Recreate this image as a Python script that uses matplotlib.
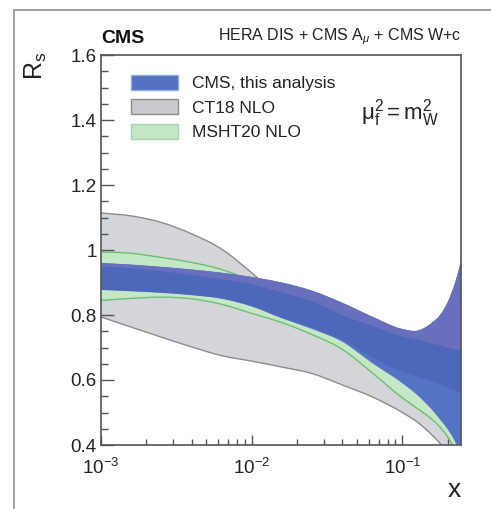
import numpy as np
import matplotlib
matplotlib.use("Agg")
import matplotlib.pyplot as plt
from matplotlib.patches import Patch, PathPatch
from matplotlib.path import Path
from matplotlib.lines import Line2D
from matplotlib.ticker import FixedLocator, LogLocator, NullFormatter

plt.rcParams['font.family'] = ['Liberation Sans', 'DejaVu Sans']
plt.rcParams['mathtext.fontset'] = 'custom'
plt.rcParams['mathtext.rm'] = 'Liberation Sans'
plt.rcParams['mathtext.it'] = 'Liberation Sans:italic'
plt.rcParams['mathtext.bf'] = 'Liberation Sans:bold'

# ---- data ----
x = [0.001, 0.00158, 0.00251, 0.00398, 0.00631, 0.01, 0.0158, 0.0251, 0.0398,
     0.0631, 0.1, 0.126, 0.158, 0.178, 0.2, 0.224, 0.245]

ct18_hi = [1.114, 1.105, 1.085, 1.05, 1.003, 0.93, 0.85, 0.79, 0.74,
           0.68, 0.62, 0.59, 0.56, 0.54, 0.52, 0.50, 0.48]
ct18_lo = [0.794, 0.763, 0.732, 0.702, 0.675, 0.658, 0.64, 0.62, 0.585,
           0.548, 0.50, 0.47, 0.43, 0.405, 0.38, 0.355, 0.335]

msht_hi = [0.994, 0.99, 0.977, 0.962, 0.94, 0.905, 0.86, 0.82, 0.78,
           0.72, 0.66, 0.63, 0.60, 0.58, 0.56, 0.55, 0.54]
msht_lo = [0.845, 0.851, 0.855, 0.85, 0.833, 0.805, 0.777, 0.74, 0.695,
           0.622, 0.545, 0.512, 0.478, 0.455, 0.425, 0.385, 0.35]

cms_hi = [0.960, 0.955, 0.948, 0.940, 0.930, 0.917, 0.90, 0.875, 0.838,
          0.795, 0.757, 0.752, 0.777, 0.80, 0.84, 0.90, 0.965]
cms_lo = [0.877, 0.873, 0.868, 0.861, 0.850, 0.826, 0.79, 0.757, 0.718,
          0.652, 0.59, 0.553, 0.507, 0.478, 0.448, 0.41, 0.37]
# inner components of the CMS band
cms_mid_hi = [0.950, 0.944, 0.935, 0.924, 0.910, 0.895, 0.87, 0.843, 0.80,
              0.767, 0.735, 0.725, 0.712, 0.707, 0.70, 0.695, 0.692]
cms_mid_lo = [0.878, 0.874, 0.869, 0.862, 0.851, 0.828, 0.793, 0.762, 0.724,
              0.67, 0.625, 0.61, 0.595, 0.585, 0.577, 0.568, 0.563]

yticks = [0.4, 0.6, 0.8, 1.0, 1.2, 1.4, 1.6]
yticklabels = ['0.4', '0.6', '0.8', '1', '1.2', '1.4', '1.6']
xticks = [1e-3, 1e-2, 1e-1]
xticklabels = [r'$10^{-3}$', r'$10^{-2}$', r'$10^{-1}$']
labels = ['CMS, this analysis', 'CT18 NLO', 'MSHT20 NLO']


# ---- smooth curve through the read points (cubic Bezier in log-x space) ----
def bezier_through(xs, ys):
    lx = np.log10(np.asarray(xs, float))
    y = np.asarray(ys, float)
    n = len(lx)
    sec = np.diff(y) / np.diff(lx)
    m = np.empty(n)
    m[0], m[-1] = sec[0], sec[-1]
    for i in range(1, n - 1):
        h0, h1 = lx[i] - lx[i - 1], lx[i + 1] - lx[i]
        m[i] = (sec[i - 1] * h1 + sec[i] * h0) / (h0 + h1)
    verts = [(lx[0], y[0])]
    for i in range(n - 1):
        d = (lx[i + 1] - lx[i]) / 3.0
        verts += [(lx[i] + d, y[i] + m[i] * d),
                  (lx[i + 1] - d, y[i + 1] - m[i + 1] * d),
                  (lx[i + 1], y[i + 1])]
    verts = [(10 ** a, b) for a, b in verts]
    codes = [Path.MOVETO] + [Path.CURVE4] * (3 * (n - 1))
    return verts, codes


def band(ax, xs, lo, hi, **kw):
    vu, cu = bezier_through(xs, hi)
    vl, cl = bezier_through(xs, lo)
    vl = vl[::-1]
    verts = vu + vl + [vu[0]]
    codes = cu + [Path.LINETO] + [Path.CURVE4] * (len(vl) - 1) + [Path.CLOSEPOLY]
    ax.add_patch(PathPatch(Path(verts, codes), **kw))


def curve(ax, xs, ys, **kw):
    v, c = bezier_through(xs, ys)
    ax.add_patch(PathPatch(Path(v, c), fill=False, **kw))


# ---- figure ----
W, H = 491, 509
fig = plt.figure(figsize=(W / 100, H / 100), dpi=100)
fig.patch.set_facecolor('white')

# outer frame (partially cropped in the reference)
fig.add_artist(Line2D([14 / W, 14 / W], [0, 1 - 10 / H], transform=fig.transFigure,
                      color='#a0a0a0', lw=1.4))
fig.add_artist(Line2D([14 / W, 1], [1 - 10 / H, 1 - 10 / H], transform=fig.transFigure,
                      color='#a0a0a0', lw=1.4))

ax = fig.add_axes([101 / W, 1 - 445 / H, 360 / W, 390 / H])
ax.set_xscale('log')
ax.set_xlim(1e-3, 0.245)
ax.set_ylim(0.4, 1.6)

gray_fill, gray_edge = '#d4d5d9', '#8c8c8c'
green_fill, green_edge = '#c4e7c6', '#6dbd74'

band(ax, x, ct18_lo, ct18_hi, facecolor=gray_fill, lw=0, zorder=1)
curve(ax, x, ct18_hi, edgecolor=gray_edge, lw=1.0, zorder=1.1)
curve(ax, x, ct18_lo, edgecolor=gray_edge, lw=1.0, zorder=1.1)

band(ax, x, msht_lo, msht_hi, facecolor=green_fill, lw=0, zorder=2)
curve(ax, x, msht_hi, edgecolor=green_edge, lw=1.0, zorder=2.1)
curve(ax, x, msht_lo, edgecolor=green_edge, lw=1.0, zorder=2.1)

band(ax, x, cms_lo, cms_hi, facecolor='#5473c4', lw=0, zorder=3)
band(ax, x, cms_mid_lo, cms_mid_hi, facecolor='#4d67ba', lw=0, zorder=3.1)
band(ax, x, cms_mid_hi, cms_hi, facecolor='#6870bd', lw=0, zorder=3.2)

# axes styling
spine_col = '#555555'
for s in ax.spines.values():
    s.set_color(spine_col)
    s.set_linewidth(1.2)
    s.set_zorder(5)

ax.yaxis.set_major_locator(FixedLocator(yticks))
ax.set_yticklabels(yticklabels)
ax.yaxis.set_minor_locator(FixedLocator([0.4 + 0.05 * i for i in range(25)]))
ax.xaxis.set_major_locator(FixedLocator(xticks))
ax.set_xticklabels(xticklabels)
ax.xaxis.set_minor_locator(LogLocator(base=10, subs=range(2, 10)))
ax.xaxis.set_minor_formatter(NullFormatter())

ax.tick_params(axis='both', which='both', direction='in', top=False, right=False,
               color=spine_col, width=1.0, labelcolor='#222222', labelsize=13.5)
ax.tick_params(axis='y', which='major', length=9, pad=3)
ax.tick_params(axis='y', which='minor', length=5)
ax.tick_params(axis='x', which='major', length=7, pad=9)
ax.tick_params(axis='x', which='minor', length=4)

# axis titles
ax.text((36 - 101) / 360, 1.01, r'R$_{\rm s}$', transform=ax.transAxes, rotation=90,
        ha='center', va='top', fontsize=18, color='#222222')
ax.text(1.0, (445 - 490) / 390, 'x', transform=ax.transAxes, ha='right', va='center',
        fontsize=19, color='#222222')

# header texts
ax.text(0.0, 1.02, 'CMS', transform=ax.transAxes, ha='left', va='bottom',
        fontsize=14, fontweight='bold', color='#111111')
ax.text(1.0, 1.02, r'HERA DIS + CMS A$_{\mu}$ + CMS W+c', transform=ax.transAxes,
        ha='right', va='bottom', fontsize=11.5, color='#222222')

ax.text(0.83, 0.851, r'$\mathrm{\mu_f^2 = m_W^2}$', transform=ax.transAxes,
        ha='center', va='center', fontsize=16, color='#222222')

handles = [Patch(facecolor='#5470c0', edgecolor='#8fb0e6', lw=1.0),
           Patch(facecolor='#c9cacd', edgecolor='#8c8c8c', lw=1.0),
           Patch(facecolor='#c4e7c6', edgecolor='#a5d9a8', lw=1.0)]
leg = ax.legend(handles, labels, loc='upper left',
                bbox_to_anchor=((131 - 101) / 360, 1 - (75 - 55) / 390),
                frameon=False, fontsize=12.5, borderpad=0, borderaxespad=0,
                handlelength=2.7, handleheight=0.95, handletextpad=0.8,
                labelspacing=0.45)
for t in leg.get_texts():
    t.set_color('#222222')

fig.savefig('out.png', dpi=100)
